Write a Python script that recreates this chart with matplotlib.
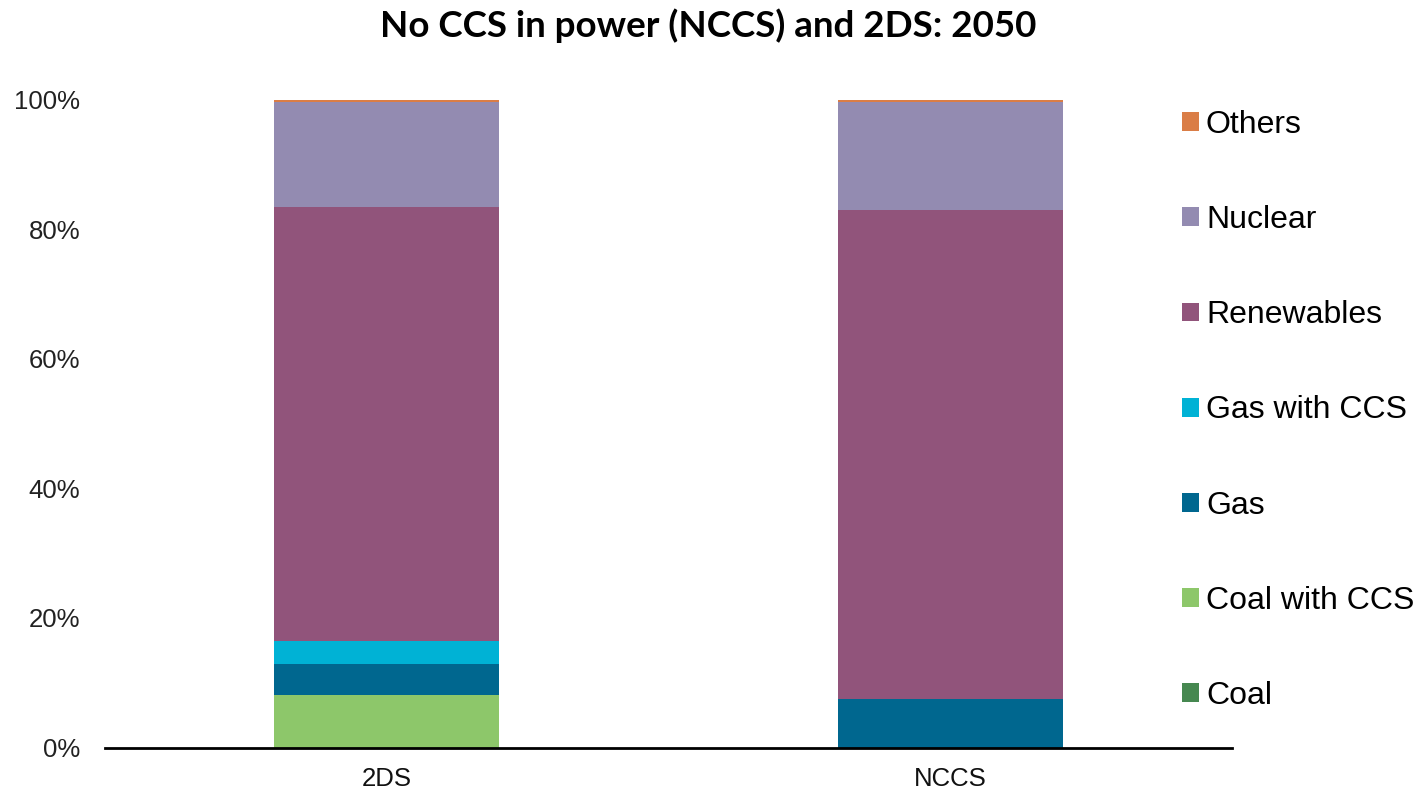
import matplotlib
matplotlib.use("Agg")
import matplotlib.pyplot as plt
from matplotlib.patches import Patch
import numpy as np

# Power generation mix in 2050, share of total (%)
scenarios = ["2DS", "NCCS"]
series = ["Coal", "Coal with CCS", "Gas", "Gas with CCS", "Renewables", "Nuclear", "Others"]
coal = [0.0, 0.0]
coal_ccs = [8.1, 0.0]
gas = [4.8, 7.5]
gas_ccs = [3.6, 0.0]
renewables = [66.9, 75.4]
nuclear = [16.2, 16.7]
others = [0.4, 0.4]

colors = ["#468850", "#8DC76A", "#00678F", "#00B2D5", "#91547B", "#938BB1", "#DA7D46"]
values = [coal, coal_ccs, gas, gas_ccs, renewables, nuclear, others]

fig = plt.figure(figsize=(14.18, 7.91), dpi=100)
ax = fig.add_axes([105 / 1418, (791 - 747.5) / 791, (1232 - 105) / 1418, 648 / 791])

x = np.arange(len(scenarios))
bottom = np.zeros(len(scenarios))
for name, vals, col in zip(series, values, colors):
    ax.bar(x, vals, width=0.4, bottom=bottom, color=col, label=name, zorder=2)
    bottom += np.array(vals)

ax.set_xlim(-0.5, 1.5)
ax.set_ylim(0, 100)
ax.set_yticks([0, 20, 40, 60, 80, 100])
ax.set_yticklabels([f"{v}%" for v in [0, 20, 40, 60, 80, 100]])
ax.set_xticks(x)
ax.set_xticklabels(scenarios)

for s in ["top", "right", "left"]:
    ax.spines[s].set_visible(False)
ax.spines["bottom"].set_linewidth(2)
ax.spines["bottom"].set_color("black")
ax.spines["bottom"].set_zorder(3)
ax.tick_params(axis="y", length=0, pad=18, labelsize=18.5, labelcolor="#222222")
ax.tick_params(axis="x", length=0, pad=14, labelsize=18.5, labelcolor="#111111")
for lab in ax.get_xticklabels() + ax.get_yticklabels():
    lab.set_fontfamily("Liberation Sans")

fig.text(708 / 1418, 1 - 26 / 791, "No CCS in power (NCCS) and 2DS: 2050",
         ha="center", va="center", fontsize=26.5, fontweight="bold", family="Lato")

handles = [Patch(facecolor=c, edgecolor="none") for c in colors][::-1]
labels = series[::-1]
leg = fig.legend(handles, labels, loc="upper left", bbox_to_anchor=(1182 / 1418, 1 - 110 / 791),
                 frameon=False, prop={"family": "Liberation Sans", "size": 23},
                 handlelength=0.53, handleheight=0.53, handletextpad=0.22,
                 labelspacing=2.04, borderaxespad=0, borderpad=0)

fig.savefig("out.png", dpi=100)
